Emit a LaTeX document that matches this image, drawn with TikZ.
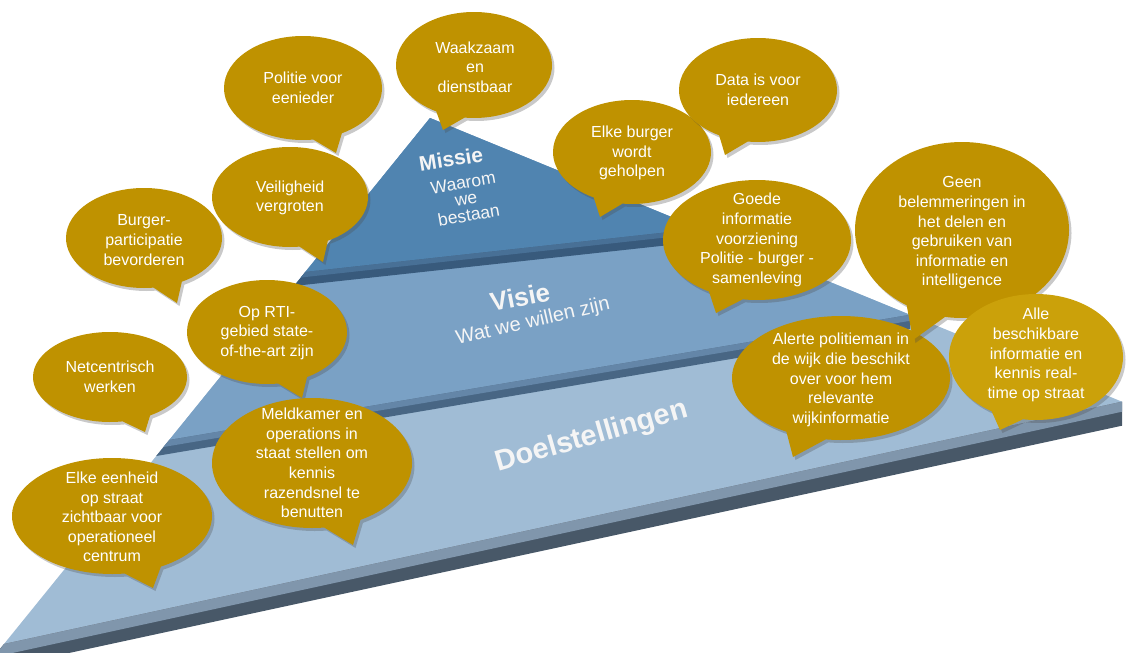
\documentclass[tikz,border=0pt]{standalone}
\usepackage{fontspec}
\setmainfont{Liberation Sans}
\usetikzlibrary{shapes.callouts,shadows}
\definecolor{gold}{RGB}{191,146,0}
\definecolor{goldlt}{RGB}{203,161,10}
\definecolor{missieface}{RGB}{80,132,176}
\definecolor{visieface}{RGB}{122,161,197}
\definecolor{doelface}{RGB}{160,188,213}
\definecolor{bandDdark}{RGB}{72,88,104}
\definecolor{bandDlite}{RGB}{128,150,172}
\definecolor{bandVdark}{RGB}{72,102,132}
\definecolor{bandVlite}{RGB}{100,134,168}
\definecolor{bandMdark}{RGB}{56,90,124}
\definecolor{bandMlite}{RGB}{72,112,150}
\definecolor{lblgray}{RGB}{245,245,245}
\begin{document}
\begin{tikzpicture}[x=1pt,y=-1pt,
  bubble/.style={ellipse callout, fill=gold, draw=none, inner sep=0pt, callout pointer arc=22,
     drop shadow={shadow xshift=2.5pt, shadow yshift=-3pt, opacity=0.3, fill=black!70}},
  btxt/.style={text=white, align=center, inner sep=0pt, font=\fontsize{16}{19.6}\selectfont},
  lbl/.style={text=lblgray, align=center, inner sep=0pt}]
\useasboundingbox (0,0) rectangle (1127,653);
% ---------------- pyramid ----------------
\coordinate (A) at (430,118);
\coordinate (DL) at (4,644);
\coordinate (DR) at (1122,401.7);
\coordinate (VL) at (169.2,440);
\coordinate (VR) at (910,314.8);
\coordinate (ML) at (305.3,272);
\coordinate (MR) at (700,228.7);
\begin{scope}
\clip (0,0) rectangle (1127,653);
% Doelstellingen tier
\fill[doelface] (A) -- (DL) -- (DR) -- cycle;
\fill[bandDdark] (DL) -- (DR) -- ([yshift=-24pt]DR) -- (-19,672) -- cycle;
\fill[bandDlite] (DL) -- (DR) -- ([yshift=-10pt]DR) -- (-6,657) -- cycle;
% Visie tier
\fill[visieface] (A) -- (VL) -- (VR) -- cycle;
\fill[bandVdark] (VL) -- (VR) -- ([yshift=-14pt]VR) -- (156.2,456) -- cycle;
\fill[bandVlite] (VL) -- (VR) -- ([yshift=-6pt]VR) -- (163.5,447) -- cycle;
% Missie tier
\fill[missieface] (A) -- (ML) -- (MR) -- cycle;
\fill[bandMdark] (ML) -- (MR) -- ([yshift=-13pt]MR) -- (293.9,286) -- cycle;
\fill[bandMlite] (ML) -- (MR) -- ([yshift=-5pt]MR) -- (301,277.5) -- cycle;
\end{scope}
% tier labels
\node[lbl, rotate=9, font=\bfseries\fontsize{21}{21}\selectfont] (missie) at (451,159) {Missie};
\node[lbl, rotate=10, font=\fontsize{17.5}{16.5}\selectfont] (waarom) at (466,199) {Waarom\\we\\bestaan};
\node[lbl, rotate=11, font=\bfseries\fontsize{26}{26}\selectfont] (visie) at (520,297) {Visie};
\node[lbl, rotate=13, font=\fontsize{20}{20}\selectfont] (wat) at (533,322) {Wat we willen zijn};
\node[lbl, rotate=16, font=\bfseries\fontsize{29}{29}\selectfont] (doel) at (592,437) {Doelstellingen};
% ---------------- bubbles ----------------
\node[bubble, minimum width=156pt, minimum height=106pt, callout absolute pointer={(443,130)}] (waak) at (474,65) {};
\node[btxt] (waakT) at (475,67) {Waakzaam\\en\\dienstbaar};
\node[bubble, minimum width=158pt, minimum height=104pt, callout absolute pointer={(336,153)}] (pol) at (303,88) {};
\node[btxt] (polT) at (303,88) {Politie voor\\eenieder};
\node[bubble, minimum width=156pt, minimum height=100pt, callout absolute pointer={(323,262)}] (veil) at (290,197) {};
\node[btxt] (veilT) at (290,198) {Veiligheid\\vergroten};
\node[bubble, minimum width=156pt, minimum height=100pt, callout absolute pointer={(177,303)}] (burg) at (144,238) {};
\node[btxt] (burgT) at (144,240) {Burger-\\participatie\\bevorderen};
\node[bubble, minimum width=160pt, minimum height=104pt, callout absolute pointer={(302,398)}] (rti) at (267,332) {};
\node[btxt] (rtiT) at (267,333) {Op RTI-\\gebied state-\\of-the-art zijn};
\node[bubble, minimum width=154pt, minimum height=90pt, callout absolute pointer={(145,432)}] (net) at (110,377) {};
\node[btxt] (netT) at (110,377) {Netcentrisch\\werken};
\node[bubble, minimum width=200pt, minimum height=130pt, callout absolute pointer={(353,545)}] (meld) at (312,463) {};
\node[btxt] (meldT) at (312,463) {Meldkamer en\\operations in\\staat stellen om\\kennis\\razendsnel te\\benutten};
\node[bubble, minimum width=200pt, minimum height=116pt, callout absolute pointer={(153,588)}] (eenh) at (112,516) {};
\node[btxt] (eenhT) at (112,517) {Elke eenheid\\op straat\\zichtbaar voor\\operationeel\\centrum};
\node[bubble, minimum width=158pt, minimum height=104pt, callout absolute pointer={(600,217)}] (elke) at (632,152) {};
\node[btxt] (elkeT) at (632,153) {Elke burger\\wordt\\geholpen};
\node[bubble, minimum width=158pt, minimum height=104pt, callout absolute pointer={(725,155)}] (data) at (758,90) {};
\node[btxt] (dataT) at (758,90) {Data is voor\\iedereen};
\node[bubble, minimum width=188pt, minimum height=120pt, callout absolute pointer={(716,313)}] (goede) at (757,240) {};
\node[btxt] (goedeT) at (757,240) {Goede\\informatie\\voorziening\\Politie - burger -\\samenleving};
\node[bubble, minimum width=218pt, minimum height=124pt, callout absolute pointer={(793,457)}] (alerte) at (841,378) {};
\node[btxt] (alerteT) at (841,380) {Alerte politieman in\\de wijk die beschikt\\over voor hem\\relevante\\wijkinformatie};
\node[bubble, minimum width=214pt, minimum height=176pt, callout absolute pointer={(913,340)}] (geen) at (962,230) {};
\node[btxt] (geenT) at (962,233) {Geen\\belemmeringen in\\het delen en\\gebruiken van\\informatie en\\intelligence};
\node[bubble, fill=goldlt, minimum width=174pt, minimum height=126pt, callout absolute pointer={(1000,430)}] (alle) at (1036,357) {};
\node[btxt] (alleT) at (1036,355) {Alle\\beschikbare\\informatie en\\kennis real-\\time op straat};
\end{tikzpicture}
\end{document}
